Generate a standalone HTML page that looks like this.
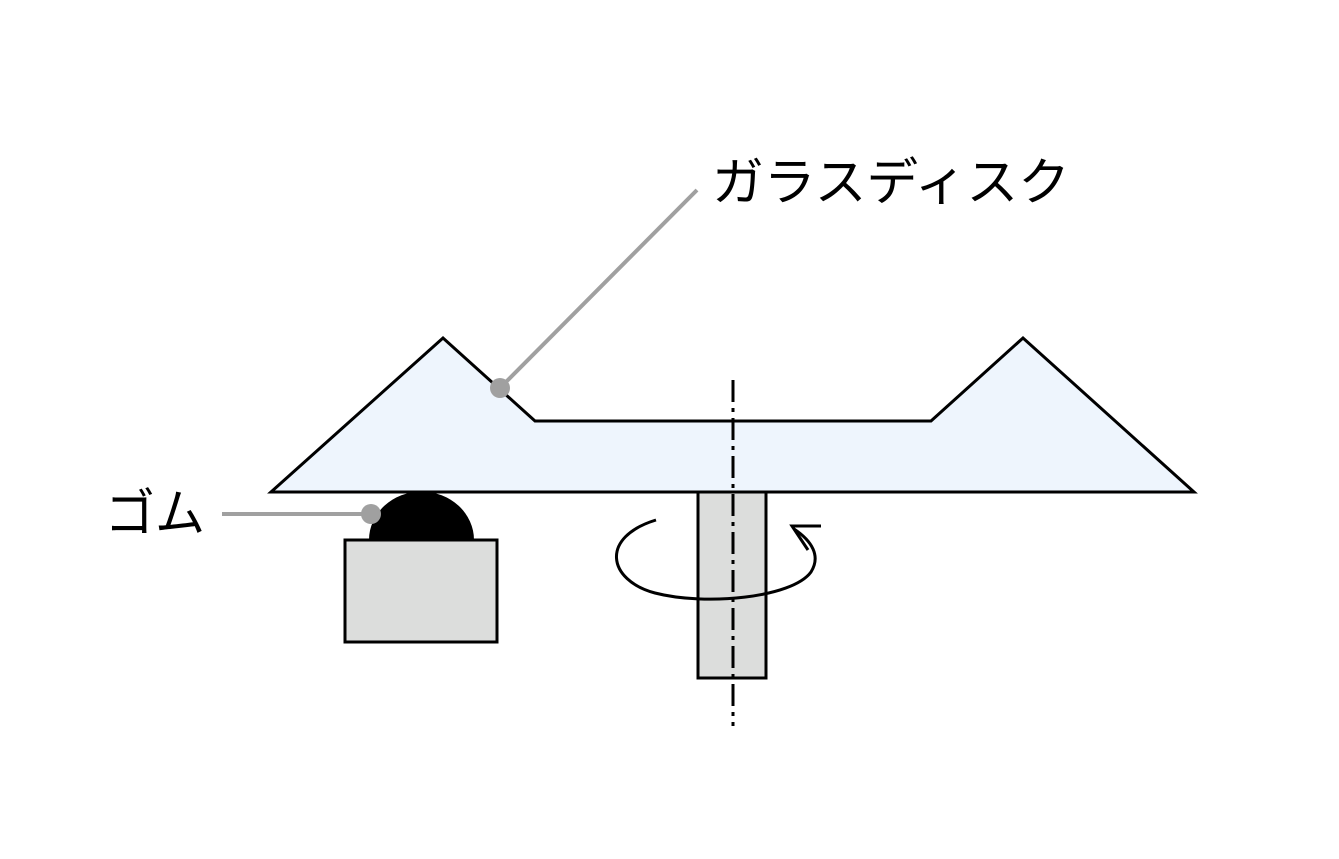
<!DOCTYPE html>
<html><head><meta charset="utf-8"><style>
html,body{margin:0;padding:0;background:#fff;}
svg{display:block;}
text{font-family:"Liberation Sans","Noto Sans CJK JP",sans-serif;fill:#000;}
</style></head><body>
<svg width="1339" height="859" viewBox="0 0 1339 859" xmlns="http://www.w3.org/2000/svg">
<rect width="1339" height="859" fill="#fff"/>
<polygon points="271,492 443,338 535,421 931,421 1023,338 1194,492" fill="#eef5fd" stroke="#000" stroke-width="3"/>
<rect x="698" y="492" width="68" height="186" fill="#dcdddc" stroke="#000" stroke-width="3"/>
<line x1="733" y1="380" x2="733" y2="726" stroke="#000" stroke-width="3" stroke-dasharray="22,6,4,6"/>
<path d="M656,520 C600,537 607,580 655,593 C705,606 792,598 811,572 C821,556 812,541 794,529" fill="none" stroke="#000" stroke-width="3"/>
<path d="M821,526 L792,526 L808,550" fill="none" stroke="#000" stroke-width="3"/>
<path d="M369,540 A52,48 0 0 1 474,540 Z" fill="#000"/>
<rect x="345" y="540" width="152" height="102" fill="#dcdddc" stroke="#000" stroke-width="3"/>
<line x1="500" y1="388" x2="697" y2="190" stroke="#a0a0a0" stroke-width="4"/>
<circle cx="500" cy="388" r="10" fill="#a0a0a0"/>
<line x1="222" y1="514" x2="371" y2="514" stroke="#a0a0a0" stroke-width="4"/>
<circle cx="371" cy="514" r="10" fill="#a0a0a0"/>
<text x="712" y="200" font-size="51" textLength="358" lengthAdjust="spacingAndGlyphs">ガラスディスク</text>
<text x="105" y="531" font-size="51" textLength="100" lengthAdjust="spacingAndGlyphs">ゴム</text>
</svg>
</body></html>
